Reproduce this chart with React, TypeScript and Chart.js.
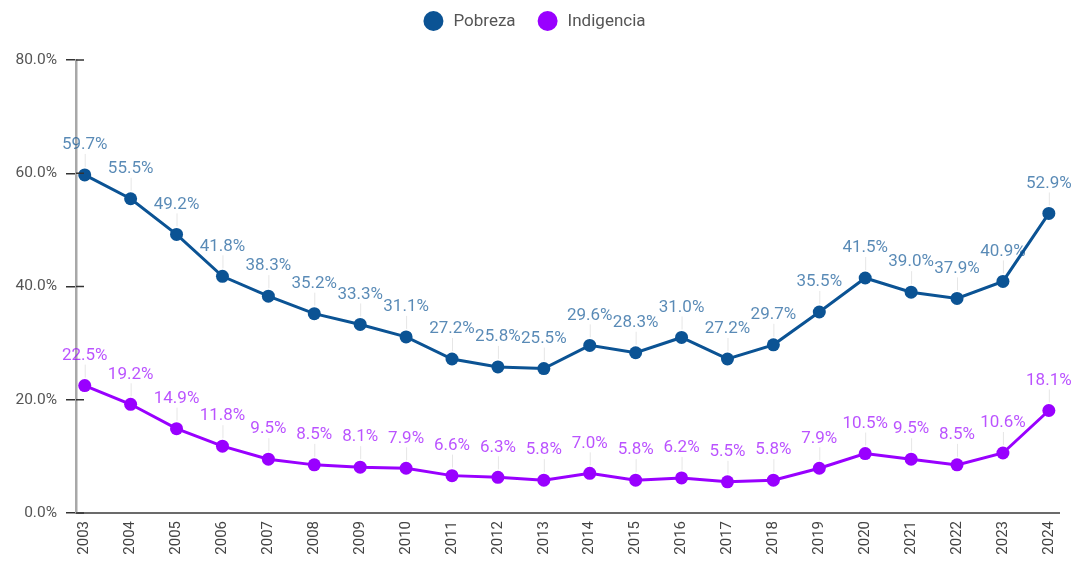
import React, { useEffect, useRef } from "react";
import { Chart, registerables } from "chart.js";

Chart.register(...registerables);

const years = [2003, 2004, 2005, 2006, 2007, 2008, 2009, 2010, 2011, 2012, 2013, 2014, 2015, 2016, 2017, 2018, 2019, 2020, 2021, 2022, 2023, 2024];
const pobreza = [59.7, 55.5, 49.2, 41.8, 38.3, 35.2, 33.3, 31.1, 27.2, 25.8, 25.5, 29.6, 28.3, 31.0, 27.2, 29.7, 35.5, 41.5, 39.0, 37.9, 40.9, 52.9];
const indigencia = [22.5, 19.2, 14.9, 11.8, 9.5, 8.5, 8.1, 7.9, 6.6, 6.3, 5.8, 7.0, 5.8, 6.2, 5.5, 5.8, 7.9, 10.5, 9.5, 8.5, 10.6, 18.1];
const seriesNames = ["Pobreza", "Indigencia"];
const yTicks = [0, 20, 40, 60, 80];

const COLORS = ["#0b5394", "#9900ff"];
const LABEL_COLORS = ["rgba(11,83,148,0.68)", "rgba(153,0,255,0.68)"];
const FONT = "Roboto, 'Noto Sans', sans-serif";

const dataLabelPlugin = {
  id: "dataLabels",
  afterDatasetsDraw(chart: any) {
    const ctx = chart.ctx;
    ctx.save();
    chart.data.datasets.forEach((ds: any, di: number) => {
      const meta = chart.getDatasetMeta(di);
      meta.data.forEach((pt: any, i: number) => {
        const v = ds.data[i].y;
        ctx.strokeStyle = "#e6e6e6";
        ctx.lineWidth = 1;
        ctx.beginPath();
        ctx.moveTo(pt.x + 0.5, pt.y - 8);
        ctx.lineTo(pt.x + 0.5, pt.y - 21);
        ctx.stroke();
        ctx.fillStyle = LABEL_COLORS[di];
        ctx.font = "17px " + FONT;
        ctx.textAlign = "center";
        ctx.textBaseline = "middle";
        ctx.fillText(v.toFixed(1) + "%", pt.x, pt.y - 30);
      });
    });
    ctx.restore();
  },
};

const axisStubPlugin = {
  id: "axisStubs",
  afterDraw(chart: any) {
    const ctx = chart.ctx;
    const ys = chart.scales.y;
    const left = chart.chartArea.left;
    ctx.save();
    ctx.strokeStyle = "#333";
    ctx.lineWidth = 1.5;
    ys.ticks.forEach((t: any) => {
      const py = ys.getPixelForValue(t.value);
      ctx.beginPath();
      ctx.moveTo(left, py);
      ctx.lineTo(left + 8, py);
      ctx.stroke();
    });
    ctx.restore();
  },
};

const legendPlugin = {
  id: "customLegend",
  afterDraw(chart: any) {
    const ctx = chart.ctx;
    ctx.save();
    ctx.font = "17px " + FONT;
    const r = 10;
    const gapCircleText = 10;
    const gapItems = 22;
    const widths = chart.data.datasets.map((ds: any) => ctx.measureText(ds.label).width);
    let total = 0;
    widths.forEach((w: number, i: number) => {
      total += 2 * r + gapCircleText + w + (i > 0 ? gapItems : 0);
    });
    let x = chart.width / 2 - total / 2 - 3;
    const cy = 21;
    chart.data.datasets.forEach((ds: any, i: number) => {
      ctx.fillStyle = ds.borderColor;
      ctx.beginPath();
      ctx.arc(x + r, cy, r, 0, Math.PI * 2);
      ctx.fill();
      ctx.fillStyle = "#555";
      ctx.textAlign = "left";
      ctx.textBaseline = "middle";
      ctx.fillText(ds.label, x + 2 * r + gapCircleText, cy + 1);
      x += 2 * r + gapCircleText + widths[i] + gapItems;
    });
    ctx.restore();
  },
};

export default function App() {
  const ref = useRef<HTMLCanvasElement | null>(null);

  useEffect(() => {
    if (!ref.current) return;
    const series = [pobreza, indigencia];
    const chart = new Chart(ref.current, {
      type: "line",
      data: {
        datasets: series.map((vals, di) => ({
          label: seriesNames[di],
          data: years.map((yr, i) => ({ x: yr, y: vals[i] })),
          borderColor: COLORS[di],
          backgroundColor: COLORS[di],
          pointBackgroundColor: COLORS[di],
          pointBorderWidth: 0,
          pointRadius: 6.5,
          borderWidth: 3,
          tension: 0,
        })),
      },
      options: {
        animation: false,
        responsive: false,
        layout: { padding: { top: 60, right: 14, left: 0, bottom: 0 } },
        plugins: {
          legend: { display: false },
          tooltip: { enabled: false },
        },
        scales: {
          x: {
            type: "linear",
            min: 2002.81,
            max: 2024.24,
            afterBuildTicks: (scale: any) => {
              scale.ticks = years.map((v) => ({ value: v }));
            },
            afterFit: (scale: any) => {
              scale.height = 49;
            },
            grid: { display: false, drawTicks: false },
            border: { display: true, color: "#6b6b6b", width: 2 },
            ticks: {
              autoSkip: false,
              maxRotation: 90,
              minRotation: 90,
              padding: 8,
              color: "#444",
              font: { family: FONT, size: 15 },
              callback: (v: any) => String(v),
            },
          },
          y: {
            min: 0,
            max: 80,
            afterBuildTicks: (scale: any) => {
              scale.ticks = yTicks.map((v) => ({ value: v }));
            },
            afterFit: (scale: any) => {
              scale.width = 76;
            },
            grid: {
              display: true,
              drawOnChartArea: false,
              drawTicks: true,
              tickLength: 10,
              tickColor: "#333",
              lineWidth: 1.5,
            },
            border: { display: true, color: "#a8a8a8", width: 2.5 },
            ticks: {
              padding: 9,
              color: "#555",
              font: { family: FONT, size: 15.5 },
              callback: (v: any) => Number(v).toFixed(1) + "%",
            },
          },
        },
      },
      plugins: [dataLabelPlugin, axisStubPlugin, legendPlugin],
    });
    return () => chart.destroy();
  }, []);

  return (
    <div style={{ position: "absolute", left: 0, top: 0, width: 1075, height: 562, background: "#fff" }}>
      <canvas ref={ref} width={1075} height={562} style={{ display: "block" }} />
    </div>
  );
}
